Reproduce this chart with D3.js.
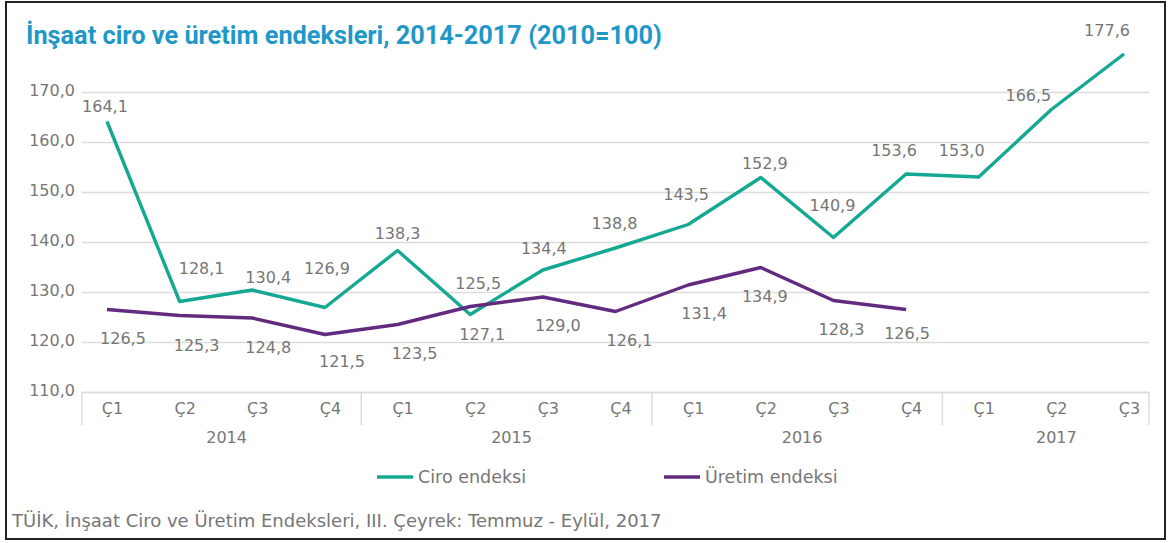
<!DOCTYPE html>
<html>
<head>
<meta charset="utf-8">
<script src="https://cdn.jsdelivr.net/npm/d3@7"></script>
<style>
  html, body { margin: 0; padding: 0; background: #fff; }
  svg { display: block; }
  text { font-family: "DejaVu Sans", "Noto Sans", sans-serif; }
  .title { font-family: Roboto, "Noto Sans", sans-serif; }
</style>
</head>
<body>
<svg id="chart" width="1168" height="543"></svg>
<script>
// Quarterly categories (2014 Ç1 – 2017 Ç3)
const quarters = ["Ç1","Ç2","Ç3","Ç4","Ç1","Ç2","Ç3","Ç4","Ç1","Ç2","Ç3","Ç4","Ç1","Ç2","Ç3"];
const years    = ["2014","2014","2014","2014","2015","2015","2015","2015","2016","2016","2016","2016","2017","2017","2017"];

// Index values (2010=100)
const ciro    = [164.1,128.1,130.4,126.9,138.3,125.5,134.4,138.8,143.5,152.9,140.9,153.6,153.0,166.5,177.6];
const uretim  = [126.5,125.3,124.8,121.5,123.5,127.1,129.0,126.1,131.4,134.9,128.3,126.5];

const yTicks = [110,120,130,140,150,160,170];

// Label placement relative to each point (label centre offset in px)
const ciroLabelOffset   = [[-2,-15],[22,-33],[16,-13],[2,-39],[0,-17],[8,-31],[1,-22],[-1,-25],[-2,-30],[4,-14],[-1,-32],[-12,-24],[-17,-27],[-23,-14],[-17,-24]];
const uretimLabelOffset = [[16,29],[17,30],[16,29],[17,27],[17,29],[12,28],[15,28],[14,29],[16,28],[4,29],[8,29],[1,24]];

const COL_CIRO = "#15a893";
const COL_URETIM = "#632b80";
const COL_TEXT = "#767676";
const COL_GRID = "#dcdcdc";

const svg = d3.select("#chart");
const fmt = v => d3.format(".1f")(v).replace(".", ",");

svg.append("rect").attr("x",0).attr("y",0).attr("width",1168).attr("height",543).attr("fill","#fff");

const left = 82, right = 1149;
const x = d3.scalePoint().domain(d3.range(quarters.length)).range([left, right]).padding(0.344);
const y = d3.scaleLinear().domain([110, 180]).range([392, 42]);

// Title
svg.append("text").attr("class", "title")
  .attr("x", 26).attr("y", 44)
  .attr("font-size", 25.3).attr("font-weight", 700)
  .attr("fill", "#1f98c9")
  .text("İnşaat ciro ve üretim endeksleri, 2014-2017 (2010=100)");

// Horizontal grid + y labels
const yAxis = d3.axisLeft(y).tickValues(yTicks).tickSize(-(right - left)).tickFormat(fmt).tickPadding(7);
const gy = svg.append("g").attr("transform", `translate(${left},0)`).call(yAxis);
gy.select(".domain").remove();
gy.selectAll(".tick line").attr("stroke", COL_GRID).attr("stroke-width", 1.5);
gy.selectAll(".tick text").attr("fill", COL_TEXT).attr("font-size", 16).attr("dy", "0.2em").attr("x", -7);

// Category axis: quarter labels
const xAxis = d3.axisBottom(x).tickSize(0).tickPadding(11).tickFormat(i => quarters[i]);
const gx = svg.append("g").attr("transform", `translate(0,${y(110)})`).call(xAxis);
gx.select(".domain").attr("stroke", COL_GRID).attr("stroke-width", 1.5);
gx.selectAll(".tick text").attr("fill", COL_TEXT).attr("font-size", 16).attr("dx", 5);

// Year groups
const step = x.step();
const groups = d3.groups(d3.range(quarters.length), i => years[i]);
const sepXs = [left];
groups.forEach(([yr, idx], gi) => {
  const lo = Math.max(left, x(idx[0]) - step / 2);
  const hi = x(idx[idx.length - 1]) + step / 2;
  const edge = gi === groups.length - 1 ? right : hi;
  sepXs.push(edge);
  svg.append("text")
    .attr("x", (lo + hi) / 2 + 5).attr("y", 443)
    .attr("text-anchor", "middle").attr("font-size", 16).attr("fill", COL_TEXT)
    .text(yr);
});
svg.selectAll("line.sep").data(sepXs).join("line").attr("class","sep")
  .attr("x1", d => d).attr("x2", d => d)
  .attr("y1", y(110)).attr("y2", 425)
  .attr("stroke", COL_GRID).attr("stroke-width", 1.5);

// Series lines
const line = d3.line().x((d, i) => x(i)).y(d => y(d));
svg.append("path").datum(ciro).attr("d", line)
  .attr("fill","none").attr("stroke", COL_CIRO).attr("stroke-width", 3.4).attr("stroke-linejoin","round");
svg.append("path").datum(uretim).attr("d", line)
  .attr("fill","none").attr("stroke", COL_URETIM).attr("stroke-width", 3.4).attr("stroke-linejoin","round");

// Data labels
function labels(data, offs) {
  svg.append("g").selectAll("text").data(data).join("text")
    .attr("x", (d, i) => x(i) + offs[i][0])
    .attr("y", (d, i) => y(d) + offs[i][1])
    .attr("dy", "0.35em").attr("text-anchor", "middle")
    .attr("font-size", 16).attr("fill", COL_TEXT)
    .text(d => fmt(d));
}
labels(ciro, ciroLabelOffset);
labels(uretim, uretimLabelOffset);

// Legend
const legend = [
  { name: "Ciro endeksi", color: COL_CIRO, x: 377 },
  { name: "Üretim endeksi", color: COL_URETIM, x: 664 }
];
const lg = svg.append("g").selectAll("g").data(legend).join("g")
  .attr("transform", d => `translate(${d.x},477)`);
lg.append("line").attr("x1", 0).attr("x2", 36).attr("stroke", d => d.color).attr("stroke-width", 3.5);
lg.append("text").attr("x", 41).attr("dy", "0.35em").attr("font-size", 17.5).attr("fill", COL_TEXT).text(d => d.name);

// Source note
svg.append("text")
  .attr("x", 12).attr("y", 527)
  .attr("font-size", 18).attr("fill", COL_TEXT)
  .text("TÜİK, İnşaat Ciro ve Üretim Endeksleri, III. Çeyrek: Temmuz - Eylül, 2017");

// Outer frame
svg.append("rect").attr("x", 6).attr("y", 2).attr("width", 1159).attr("height", 537)
  .attr("fill", "none").attr("stroke", "#222").attr("stroke-width", 2);
</script>
</body>
</html>
